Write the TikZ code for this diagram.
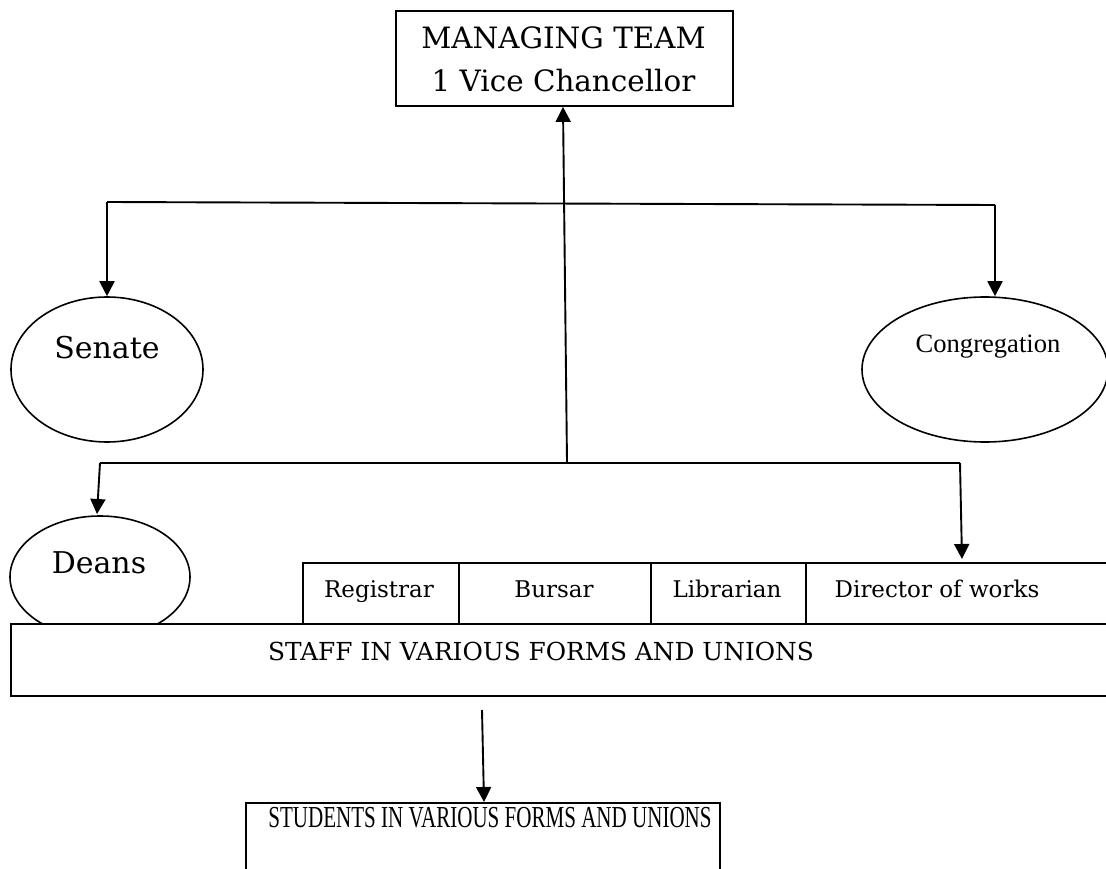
\documentclass[tikz,border=0pt]{standalone}
\usepackage{fontspec}
\setmainfont{DejaVu Serif}
\newfontfamily\timesf{Liberation Serif}
\usetikzlibrary{shapes.geometric,arrows.meta,calc}
\begin{document}
\begin{tikzpicture}[x=1pt,y=-1pt,
  line width=1.9pt,
  arr/.style={-{Triangle[length=15pt,width=15pt]}},
  box/.style={draw,fill=white,rectangle,inner sep=0pt,anchor=north west},
  ell/.style={draw,ellipse,inner sep=0pt,fill=white,line width=1.6pt},
  titlef/.style={font=\fontsize{29.4}{35}\selectfont,anchor=base,inner sep=0pt},
  bigf/.style={font=\fontsize{30}{35}\selectfont,anchor=base,inner sep=0pt},
  midf/.style={font=\fontsize{24.8}{29}\selectfont,anchor=base,inner sep=0pt},
  smallf/.style={font=\fontsize{23}{27}\selectfont,anchor=base,inner sep=0pt},
  congf/.style={font=\timesf\fontsize{26.6}{30}\selectfont,anchor=base,inner sep=0pt},
  studf/.style={font=\timesf\fontsize{30.5}{34}\selectfont,anchor=base,inner sep=0pt,xscale=0.69}
]
\useasboundingbox (0,0) rectangle (1106,869);
\clip (0,0) rectangle (1106,869);

% top box
\node[box,minimum width=337pt,minimum height=95pt] (mt) at (395,10) {};
\node[titlef] (mt1) at (563.5,49) {MANAGING TEAM};
\node[titlef] (mt2) at (563.5,92) {1 Vice Chancellor};

% ellipses
\node[ell,minimum width=192pt,minimum height=145pt] (senate) at (107,369.5) {};
\node[bigf] (senatet) at (107,358) {Senate};
\node[ell,minimum width=246pt,minimum height=145pt] (cong) at (985,369.5) {};
\node[congf] (congt) at (988,352) {Congregation};

% Deans ellipse (lower part hidden by staff box)
\node[ell,minimum width=180pt,minimum height=122pt] (deans) at (100,577) {};
\node[bigf] (deanst) at (99,573) {Deans};

% officer boxes
\node[box,minimum width=156pt,minimum height=61pt] (reg) at (302,562) {};
\node[box,minimum width=192pt,minimum height=61pt] (bur) at (458,562) {};
\node[box,minimum width=155pt,minimum height=61pt] (lib) at (650,562) {};
\node[box,minimum width=320pt,minimum height=61pt] (dir) at (805,562) {};
\node[smallf] (regt) at (379,597) {Registrar};
\node[smallf] (burt) at (554,597) {Bursar};
\node[smallf] (libt) at (727,597) {Librarian};
\node[smallf] (dirt) at (937,597) {Director of works};

% staff box
\node[box,minimum width=1120pt,minimum height=72pt] (staff) at (10,623) {};
\node[midf] (stafft) at (541,660) {STAFF IN VARIOUS FORMS AND UNIONS};

% students box
\node[box,minimum width=474pt,minimum height=90pt] (stud) at (245,802) {};
\node[studf] (studt) at (490,827) {STUDENTS IN VARIOUS FORMS AND UNIONS};

% connectors
\coordinate (j2) at (567,462);
\coordinate (h1l) at (107,202);
\coordinate (h1r) at (995,205);
\coordinate (h2l) at (100,463);
\coordinate (h2r) at (960,463);
\coordinate (s0) at (482,710);

\draw[arr] (j2) -- (mt.south -| 563,0);
\draw (h1l) -- (h1r);
\draw[arr] (h1l) -- (senate.north);
\draw[arr] (h1r) -- (h1r |- cong.north);
\draw (h2l) -- (h2r);
\draw[arr] (h2l) -- (97,514);
\draw[arr] (h2r) -- (962,559);
\draw[arr] (s0) -- (stud.north -| 484,0);
\end{tikzpicture}
\end{document}
